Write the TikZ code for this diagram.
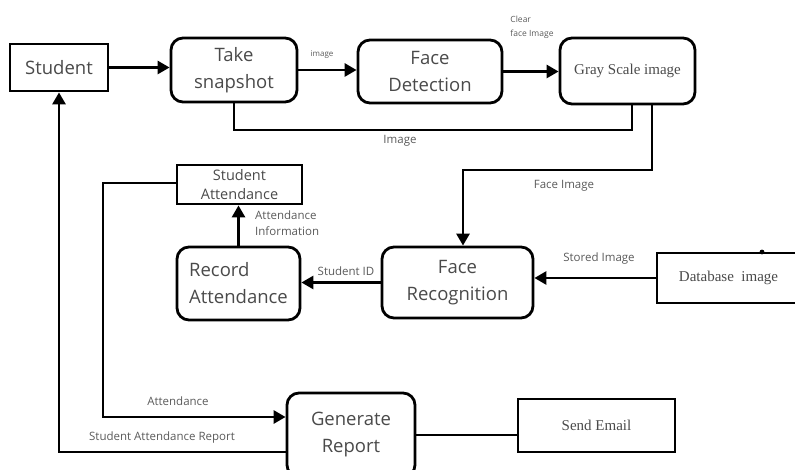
\documentclass[tikz,border=0pt]{standalone}
\usepackage{fontspec}
\setmainfont{Open Sans}
\newfontfamily\serifnode{Liberation Serif}
\usetikzlibrary{arrows.meta,calc}
\definecolor{txt}{HTML}{4A4A4A}
\definecolor{lblc}{HTML}{5A5A5A}
\tikzset{
  box/.style={draw=black, line width=2.8pt, rectangle, inner sep=0pt, text=txt, align=center, font=\fontsize{18.5}{27}\selectfont},
  rbox/.style={box, rounded corners=12pt},
  sbox/.style={box, font=\serifnode\fontsize{15}{18}\selectfont},
  conn/.style={line width=2.8pt},
  arr/.style={conn, -{Triangle[length=12pt,width=13pt]}},
  lbl/.style={inner sep=0pt, text=lblc, font=\fontsize{11.5}{16}\selectfont},
}
\begin{document}
\begin{tikzpicture}[x=1pt,y=-1pt]
\useasboundingbox (0,0) rectangle (795,470);
% nodes
\node[box, minimum width=98pt, minimum height=47pt] (student) at (59,67.5) {Student};
\node[rbox, minimum width=126pt, minimum height=64pt] (snap) at (234,70) {Take\\snapshot};
\node[rbox, minimum width=144pt, minimum height=63pt] (fdet) at (430,71.5) {Face\\Detection};
\node[rbox, sbox, rounded corners=12pt, minimum width=135pt, minimum height=66pt] (gray) at (627.5,71) {Gray Scale image};
\node[rbox, minimum width=151pt, minimum height=71pt] (frec) at (457.5,282.5) {Face\\Recognition};
\node[sbox, minimum width=143pt, minimum height=50pt] (db) at (728.5,278) {Database\ \ image};
\node[rbox, align=left, minimum width=123pt, minimum height=73pt] (rec) at (238.5,283.5) {Record\\Attendance};
\node[box, minimum width=125pt, minimum height=39pt, font=\fontsize{14.5}{20}\selectfont] (satt) at (239.5,184.5) {Student\\[-1pt]Attendance};
\node[rbox, minimum width=128pt, minimum height=84pt] (gen) at (351,435) {Generate\\Report};
\node[sbox, minimum width=157pt, minimum height=53pt] (email) at (596.5,425.5) {Send Email};
\fill (762,252) circle (2.4pt);
% connectors
\draw[arr] (student.east) -- (student.east -| snap.west);
\draw[arr] (snap.east) -- (snap.east -| fdet.west);
\draw[arr] (fdet.east) -- (fdet.east -| gray.west);
\coordinate (l1) at (632,130);
\draw[conn] (snap.south) |- (l1) -- (l1 |- gray.south);
\coordinate (f1) at (652,170);
\coordinate (f2) at (463,170);
\draw[arr] (f1 |- gray.south) -- (f1) -- (f2) -- (f2 |- frec.north);
\draw[arr] (db.west) -- (db.west -| frec.east);
\draw[arr] (frec.west) -- (frec.west -| rec.east);
\draw[arr] (rec.north) -- (rec.north |- satt.south);
\coordinate (a1) at (103,183);
\draw[arr] (satt.west |- a1) -- (a1) |- ($(gen.west)+(0,-18)$);
\draw[arr] ($(gen.west)+(0,17)$) -| (student.south);
\draw[conn] (gen.east) -- (gen.east -| email.west);
% labels
\node[lbl, font=\fontsize{8}{10}\selectfont] (limg) at (322,55) {image};
\node[lbl, font=\fontsize{8.5}{14}\selectfont, align=left] (lclear) at (532,27) {Clear\\face Image};
\node[lbl] (limage) at (400,141) {Image};
\node[lbl] (lface) at (564,186) {Face Image};
\node[lbl] (lstored) at (599,259) {Stored Image};
\node[lbl] (lsid) at (346,271) {Student ID};
\node[lbl, align=left, anchor=west] (lattinfo) at (255,223.5) {Attendance\\Information};
\node[lbl] (latt) at (178,401) {Attendance};
\node[lbl] (lsar) at (162,438) {Student Attendance Report};
\end{tikzpicture}
\end{document}
